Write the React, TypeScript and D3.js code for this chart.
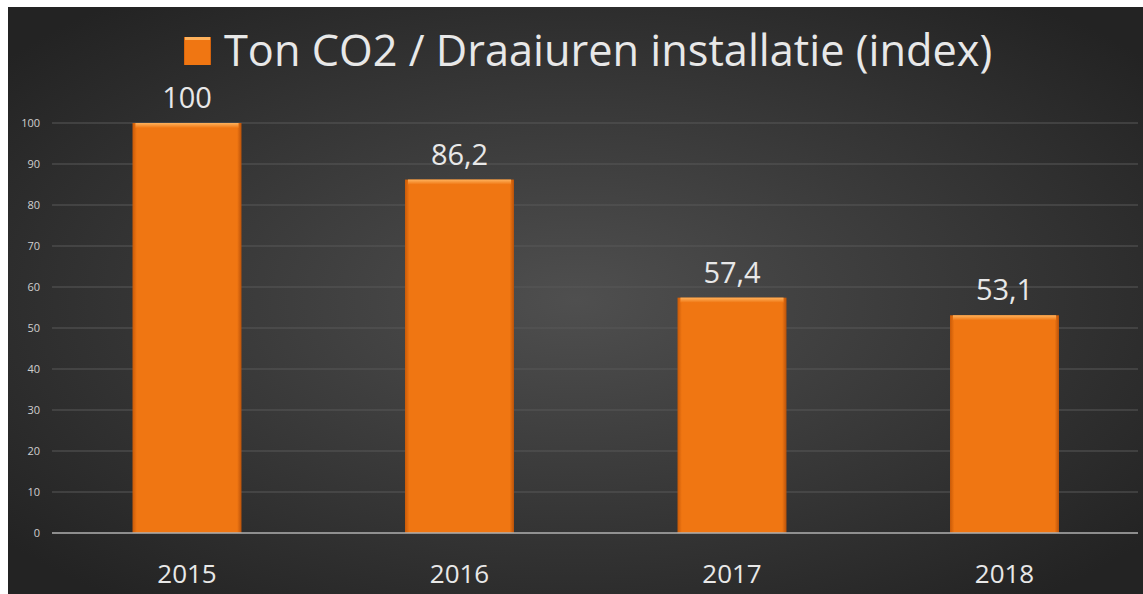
import { scaleBand, scaleLinear } from "d3";

const years = ["2015", "2016", "2017", "2018"];
const values = [100, 86.2, 57.4, 53.1];
const yTicks = [0, 10, 20, 30, 40, 50, 60, 70, 80, 90, 100];
const title = "Ton CO2 / Draaiuren installatie (index)";

const W = 1143;
const H = 594;
const FONT = "'Open Sans', 'Noto Sans', sans-serif";

export default function App() {
  const x = scaleBand<string>()
    .domain(years)
    .range([50.75, 1140.75])
    .paddingInner(0.6)
    .paddingOuter(0.3);
  const y = scaleLinear().domain([0, 100]).range([533, 123]);
  const fmt = (v: number) => String(v).replace(".", ",");

  return (
    <div style={{ position: "fixed", left: 0, top: 0, width: W, height: H, overflow: "hidden" }}>
      <svg width={W} height={H} style={{ display: "block" }} fontFamily={FONT}>
        <defs>
          <radialGradient id="bg" cx="50%" cy="50%" r="65%">
            <stop offset="0%" stopColor="#4f4f4f" />
            <stop offset="100%" stopColor="#232323" />
          </radialGradient>
          <linearGradient id="barH" x1="0" x2="1" y1="0" y2="0">
            <stop offset="0%" stopColor="#c95a08" />
            <stop offset="4%" stopColor="#f07612" />
            <stop offset="96%" stopColor="#f07612" />
            <stop offset="100%" stopColor="#b9520a" />
          </linearGradient>
          <linearGradient id="barTop" x1="0" x2="0" y1="0" y2="1">
            <stop offset="0%" stopColor="#ffb25c" />
            <stop offset="100%" stopColor="#f07612" />
          </linearGradient>
        </defs>
        <rect x={0} y={0} width={W} height={H} fill="#fff" />
        <rect x={8} y={7} width={W - 8} height={H - 7} fill="url(#bg)" />

        {yTicks.map((t) => (
          <g key={t}>
            {t > 0 && (
              <line x1={52} x2={1138} y1={y(t)} y2={y(t)} stroke="#585858" strokeWidth={1} />
            )}
            <text x={40} y={y(t)} dy="0.35em" textAnchor="end" fontSize={11} fill="#cfcfcf">
              {t}
            </text>
          </g>
        ))}

        {years.map((yr, i) => {
          const bx = x(yr) ?? 0;
          const bw = x.bandwidth();
          const top = y(values[i]);
          return (
            <g key={yr}>
              <rect x={bx} y={top} width={bw} height={y(0) - top} fill="url(#barH)" />
              <rect x={bx + 3} y={top} width={bw - 6} height={5} fill="url(#barTop)" />
              <text
                x={bx + bw / 2}
                y={top - 15}
                textAnchor="middle"
                fontSize={29}
                fill="#e8e8e8"
              >
                {fmt(values[i])}
              </text>
              <text
                x={bx + bw / 2}
                y={583}
                textAnchor="middle"
                fontSize={26}
                fill="#e8e8e8"
              >
                {yr}
              </text>
            </g>
          );
        })}

        <line x1={52} x2={1138} y1={y(0)} y2={y(0)} stroke="#b0b0b0" strokeWidth={1.5} />

        <rect x={184} y={37} width={27} height={28} fill="url(#barH)" />
        <rect x={185} y={37} width={25} height={3} fill="#ffb25c" />
        <text x={224} y={66} fontSize={43.3} fill="#e8e8e8">
          {title}
        </text>
      </svg>
    </div>
  );
}
